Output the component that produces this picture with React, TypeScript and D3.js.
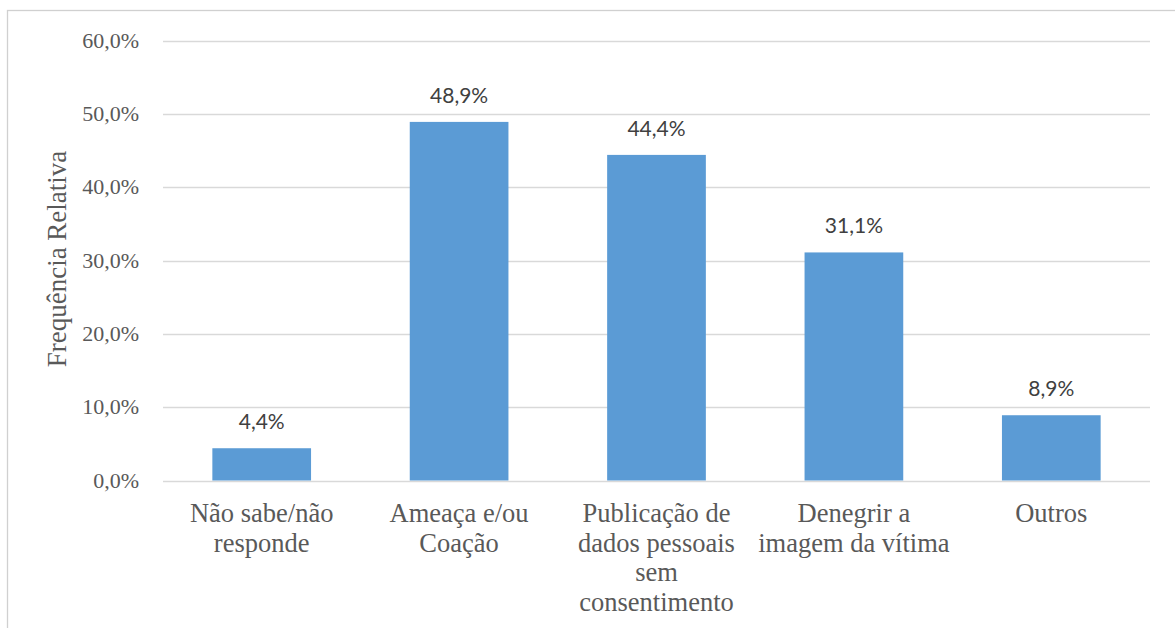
import React from "react";
import * as d3 from "d3";

const categories = [
  ["Não sabe/não", "responde"],
  ["Ameaça e/ou", "Coação"],
  ["Publicação de", "dados pessoais", "sem", "consentimento"],
  ["Denegrir a", "imagem da vítima"],
  ["Outros"],
];
const values = [4.4, 48.9, 44.4, 31.1, 8.9];
const yTicks = [0, 10, 20, 30, 40, 50, 60];

const SERIF = "Liberation Serif";
const SANS = "Lato";

const width = 1175;
const height = 628;
const margins = { top: 40.5, right: 25, bottom: 147.5, left: 163 };

const fmt = (d: number) => d.toFixed(1).replace(".", ",") + "%";

const App = () => {
  const keys = categories.map((c) => c.join(" "));
  const xScale = d3
    .scaleBand()
    .domain(keys)
    .range([margins.left, width - margins.right])
    .paddingInner(0.5)
    .paddingOuter(0.25);

  const yScale = d3
    .scaleLinear()
    .domain([0, 60])
    .range([height - margins.bottom, margins.top]);

  return (
    <svg
      width={width}
      height={height}
      style={{ position: "absolute", left: 0, top: 0, background: "#fff" }}
    >
      {/* chart frame */}
      <rect x={7.5} y={10.5} width={width + 20} height={height + 20} fill="#fff" stroke="#d0d0d0" strokeWidth={1.3} />

      {/* grid lines */}
      {yTicks.map((t) => (
        <line
          key={"g" + t}
          x1={margins.left}
          x2={width - margins.right}
          y1={Math.round(yScale(t)) + 0.5}
          y2={Math.round(yScale(t)) + 0.5}
          stroke="#d9d9d9"
          strokeWidth={1.3}
        />
      ))}

      {/* y tick labels */}
      {yTicks.map((t) => (
        <text
          key={"t" + t}
          x={139}
          y={yScale(t) + 7}
          textAnchor="end"
          fill="#595959"
          style={{ fontFamily: SERIF, fontSize: "22px" }}
        >
          {fmt(t)}
        </text>
      ))}

      {/* bars */}
      {values.map((v, i) => (
        <rect
          key={"b" + i}
          x={xScale(keys[i])!}
          y={yScale(v)}
          width={xScale.bandwidth()}
          height={yScale(0) - yScale(v)}
          fill="#5b9bd5"
        />
      ))}

      {/* value labels */}
      {values.map((v, i) => (
        <text
          key={"v" + i}
          x={xScale(keys[i])! + xScale.bandwidth() / 2}
          y={yScale(v) - 19}
          textAnchor="middle"
          fill="#404040"
          style={{ fontFamily: SANS, fontSize: "21px" }}
        >
          {fmt(v)}
        </text>
      ))}

      {/* category labels */}
      {categories.map((lines, i) => {
        const cx = xScale(keys[i])! + xScale.bandwidth() / 2;
        return (
          <text
            key={"c" + i}
            x={cx}
            y={522}
            textAnchor="middle"
            fill="#595959"
            style={{ fontFamily: SERIF, fontSize: "26.5px" }}
          >
            {lines.map((l, j) => (
              <tspan key={j} x={cx} dy={j === 0 ? 0 : 29.5}>
                {l}
              </tspan>
            ))}
          </text>
        );
      })}

      {/* y axis title */}
      <text
        transform="rotate(-90)"
        x={-259}
        y={66}
        textAnchor="middle"
        fill="#595959"
        style={{ fontFamily: SERIF, fontSize: "27px" }}
      >
        Frequência Relativa
      </text>
    </svg>
  );
};

export default App;
